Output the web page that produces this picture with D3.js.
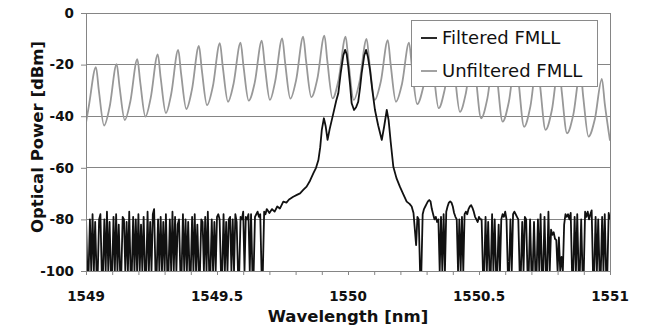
<!DOCTYPE html>
<html><head><meta charset="utf-8">
<script src="https://cdn.jsdelivr.net/npm/d3@7"></script>
<style>
html,body{margin:0;padding:0;background:#fff;}
svg{display:block;}
</style></head>
<body>
<svg id="chart" width="648" height="326"></svg>
<script>
// ---------- DATA ----------
const xTicks = [1549, 1549.5, 1550, 1550.5, 1551];
const xTickLabels = ["1549", "1549.5", "1550", "1550.5", "1551"];
const yTicks = [0, -20, -40, -60, -80, -100];
const seriesNames = ["Filtered FMLL", "Unfiltered FMLL"];

// Unfiltered FMLL: start point, peaks, fall points, troughs, knees (wavelength nm, dBm)
const unfStart = [1549.000, -42.5];
const unfPeakWl = [1549.038,1549.117,1549.196,1549.274,1549.352,1549.431,1549.511,1549.590,1549.671,1549.749,1549.829,1549.910,1549.991,1550.071,1550.152,1550.233,1550.315,1550.396,1550.477,1550.559,1550.641,1550.723,1550.805,1550.887,1550.969];
const unfPeakDb = [-21.0,-19.8,-17.9,-16.0,-14.3,-12.8,-11.7,-11.5,-10.7,-9.8,-9.2,-8.8,-9.2,-10.0,-10.5,-11.5,-12.0,-13.0,-14.0,-15.0,-16.5,-18.0,-20.0,-22.5,-25.5];
const unfFallWl = [1549.049,1549.128,1549.207,1549.285,1549.363,1549.442,1549.522,1549.601,1549.682,1549.760,1549.840,1549.921,1550.002,1550.082,1550.163,1550.244,1550.326,1550.407,1550.488,1550.570,1550.652,1550.734,1550.816,1550.898,1550.980];
const unfFallDb = [-30.0,-28.5,-26.8,-25.1,-23.5,-22.0,-20.8,-20.5,-19.9,-19.2,-18.6,-18.5,-19.0,-19.5,-20.1,-21.0,-22.0,-23.1,-24.7,-25.8,-27.5,-28.9,-30.6,-32.7,-35.1];
const unfTroughWl = [1549.069,1549.148,1549.227,1549.305,1549.383,1549.462,1549.542,1549.621,1549.702,1549.780,1549.860,1549.941,1550.022,1550.102,1550.183,1550.264,1550.346,1550.427,1550.508,1550.590,1550.672,1550.754,1550.836,1550.918,1551.000];
const unfTroughDb = [-43.6,-41.5,-40.2,-38.8,-37.2,-35.7,-34.4,-34.0,-33.7,-33.2,-32.6,-33.1,-33.7,-33.7,-34.4,-35.3,-36.9,-38.3,-40.8,-42.1,-44.1,-45.3,-46.6,-47.9,-49.5];
const unfKneeWl = [1549.011,1549.090,1549.169,1549.247,1549.325,1549.404,1549.484,1549.563,1549.644,1549.722,1549.802,1549.883,1549.964,1550.044,1550.125,1550.206,1550.288,1550.369,1550.450,1550.532,1550.614,1550.696,1550.778,1550.860,1550.942];
const unfKneeDb = [-36.0,-36.5,-34.4,-32.9,-31.5,-29.9,-28.5,-27.5,-27.0,-26.5,-26.0,-25.5,-25.9,-26.6,-26.7,-27.5,-28.3,-29.7,-31.0,-33.1,-34.4,-36.3,-37.7,-39.4,-41.2];

// Filtered FMLL: noise floor left (start 1549.000, step 0.005 nm)
const filtLeftStart = 1549.000, filtStep = 0.005;
const filtLeftDb = [
-79,-100,-100,-80,-100,-78,-100,-81,-100,-100,
-80,-78,-100,-100,-80,-100,-77,-100,-81,-100,
-100,-79,-100,-78,-100,-82,-100,-100,-79,-80,
-100,-81,-100,-77,-100,-100,-79,-100,-80,-100,
-78,-100,-82,-100,-79,-100,-100,-77,-100,-81,
-100,-78,-76,-100,-100,-80,-100,-79,-100,-81,
-100,-78,-100,-100,-80,-100,-77,-100,-79,-100,
-82,-80,-100,-100,-78,-100,-80,-100,-81,-100,
-100,-79,-100,-78,-100,-82,-100,-100,-80,-81,
-100,-79,-100,-77,-100,-100,-80,-100,-81,-100,
-79,-78,-80,-100,-100,-78,-100,-81,-100,-80,
-79,-100,-80,-100,-78,-81,-100,-100,-79,-80,
-77,-100,-79,-80,-78,-100,-78,-100,-100,-79,
-78,-77,-79,-78,-100,-100,-77,-78,-76];
// Filtered FMLL: central mode group
const filtCoreWl = [1549.700,1549.710,1549.720,1549.730,1549.740,1549.753,1549.765,1549.775,1549.791,1549.805,1549.817,1549.830,1549.842,1549.855,1549.868,1549.878,1549.887,1549.894,1549.900,1549.908,1549.915,1549.922,1549.930,1549.944,1549.955,1549.963,1549.972,1549.982,1549.989,1549.995,1550.001,1550.008,1550.014,1550.023,1550.031,1550.039,1550.046,1550.052,1550.062,1550.069,1550.076,1550.084,1550.093,1550.103,1550.115,1550.129,1550.138,1550.148,1550.155,1550.163,1550.173,1550.185,1550.198,1550.210,1550.224,1550.235,1550.243,1550.250];
const filtCoreDb = [-77.5,-76.0,-77.0,-75.0,-75.8,-73.1,-73.5,-72.3,-71.2,-70.5,-69.9,-68.5,-67.3,-65.0,-62.1,-60.0,-57.0,-52.0,-45.3,-40.8,-44.0,-49.2,-45.0,-38.9,-34.0,-31.1,-23.4,-16.5,-14.3,-16.0,-20.8,-28.0,-35.0,-37.6,-36.5,-34.4,-29.0,-23.4,-16.5,-14.3,-17.0,-22.1,-30.0,-37.6,-43.5,-49.2,-44.0,-37.6,-41.5,-50.0,-59.6,-64.0,-67.3,-70.0,-73.1,-74.0,-75.0,-77.5];
// Filtered FMLL: noise floor right (start 1550.260, step 0.005 nm)
const filtRightStart = 1550.260;
const filtRightDb = [
-90,-79,-80,-100,-100,-78,-76,-75,-74,-73,
-72.5,-73,-76,-78,-80,-79,-81,-80,-100,-79,
-100,-78,-100,-77,-75,-73.5,-73,-73.5,-75,-77.5,
-79,-80,-100,-80,-100,-79,-100,-78,-77,-78,
-76,-75,-74.5,-75.5,-77,-79,-80,-81,-79,-80,
-80,-100,-100,-79,-100,-81,-100,-100,-78,-100,
-80,-100,-100,-82,-100,-80,-78,-79,-77,-80,
-100,-100,-80,-100,-78,-77,-78,-79,-80,-100,
-100,-81,-100,-79,-80,-100,-100,-80,-100,-100,
-81,-100,-100,-80,-100,-78,-100,-100,-79,-100,
-100,-77,-100,-84,-86,-85,-87.5,-88,-100,-87,
-100,-94.5,-100,-82,-78,-79,-78,-80,-77.5,-100,
-100,-79,-100,-78,-100,-100,-80,-100,-100,-77,
-79,-77,-80,-78,-76.5,-100,-100,-79,-100,-80,
-100,-100,-79,-100,-78,-100,-100,-77.5,-80];

// ---------- BUILD SERIES ----------
const unfiltered = [unfStart]
  .concat(unfPeakWl.map((w,i)=>[w,unfPeakDb[i]]))
  .concat(unfFallWl.map((w,i)=>[w,unfFallDb[i]]))
  .concat(unfTroughWl.map((w,i)=>[w,unfTroughDb[i]]))
  .concat(unfKneeWl.map((w,i)=>[w,unfKneeDb[i]]))
  .sort((a,b)=>a[0]-b[0]);
const filtered = filtLeftDb.map((v,i)=>[filtLeftStart+i*filtStep, v])
  .concat(filtCoreWl.map((w,i)=>[w,filtCoreDb[i]]))
  .concat(filtRightDb.map((v,i)=>[filtRightStart+i*filtStep, v]));

// ---------- LAYOUT ----------
const svg = d3.select("#chart");
const L = 86, R = 610, T = 13, B = 271;
const x = d3.scaleLinear().domain([1549, 1551]).range([L, R]);
const y = d3.scaleLinear().domain([-100, 0]).range([B, T]);
const gridColor = "#858585";
const font = "'DejaVu Sans', sans-serif";

svg.append("defs").append("clipPath").attr("id","clip")
  .append("rect").attr("x",L).attr("y",T).attr("width",R-L).attr("height",B-T);

// gridlines
svg.append("g").selectAll("line").data(yTicks).join("line")
  .attr("x1",L).attr("x2",R).attr("y1",d=>y(d)).attr("y2",d=>y(d))
  .attr("stroke",gridColor).attr("stroke-width",1).attr("shape-rendering","crispEdges");
// right border
svg.append("line").attr("x1",R).attr("x2",R).attr("y1",T).attr("y2",B)
  .attr("stroke",gridColor).attr("shape-rendering","crispEdges");

// series
const plot = svg.append("g").attr("clip-path","url(#clip)");
plot.append("path").datum(unfiltered)
  .attr("d", d3.line().x(d=>x(d[0])).y(d=>y(d[1])).curve(d3.curveMonotoneX))
  .attr("fill","none").attr("stroke","#989898").attr("stroke-width",1.8);
plot.append("path").datum(filtered)
  .attr("d", d3.line().x(d=>x(d[0])).y(d=>y(d[1])))
  .attr("fill","none").attr("stroke","#111").attr("stroke-width",1.8)
  .attr("stroke-linejoin","round");

// axes
const xAxis = d3.axisBottom(x).tickValues(d3.range(0,21).map(i=>1549+i*0.1)).tickSize(4).tickFormat("");
const gx = svg.append("g").attr("transform",`translate(0,${B})`).call(xAxis);
gx.select(".domain").attr("stroke",gridColor);
gx.selectAll(".tick line").attr("stroke",gridColor);
svg.append("g").selectAll("text").data(xTicks).join("text")
  .attr("x",d=>x(d)).attr("y",301).attr("text-anchor","middle")
  .attr("font-family",font).attr("font-weight","bold").attr("font-size",13.5).attr("fill","#111")
  .text((d,i)=>xTickLabels[i]);

const yAxis = d3.axisLeft(y).tickValues(yTicks).tickSize(5).tickFormat("");
const gy = svg.append("g").attr("transform",`translate(${L},0)`).call(yAxis);
gy.select(".domain").attr("stroke",gridColor);
gy.selectAll(".tick line").attr("stroke",gridColor);
svg.append("g").selectAll("text").data(yTicks).join("text")
  .attr("x",74).attr("y",d=>y(d)).attr("dy","0.36em").attr("text-anchor","end")
  .attr("font-family",font).attr("font-weight","bold").attr("font-size",13.5).attr("fill","#111")
  .text(d=>d);

// axis titles
svg.append("text").attr("x",(L+R)/2).attr("y",322).attr("text-anchor","middle")
  .attr("font-family",font).attr("font-weight","bold").attr("font-size",16.5).attr("fill","#111")
  .text("Wavelength [nm]");
svg.append("text").attr("transform","translate(43,137) rotate(-90)").attr("text-anchor","middle")
  .attr("font-family",font).attr("font-weight","bold").attr("font-size",16.5).attr("fill","#111")
  .text("Optical Power [dBm]");

// legend
const lg = svg.append("g");
lg.append("rect").attr("x",411).attr("y",20).attr("width",186).attr("height",66)
  .attr("fill","#fff").attr("stroke","#8a8a8a").attr("stroke-width",1).attr("shape-rendering","crispEdges");
const legColors = ["#111","#989898"];
const legY = [38, 71];
seriesNames.forEach((n,i)=>{
  lg.append("line").attr("x1",421).attr("x2",437).attr("y1",legY[i]).attr("y2",legY[i])
    .attr("stroke",legColors[i]).attr("stroke-width",1.8);
  lg.append("text").attr("x",442).attr("y",legY[i]).attr("dy","0.36em")
    .attr("font-family",font).attr("font-size",18).attr("fill","#111").text(n);
});
</script>
</body></html>
